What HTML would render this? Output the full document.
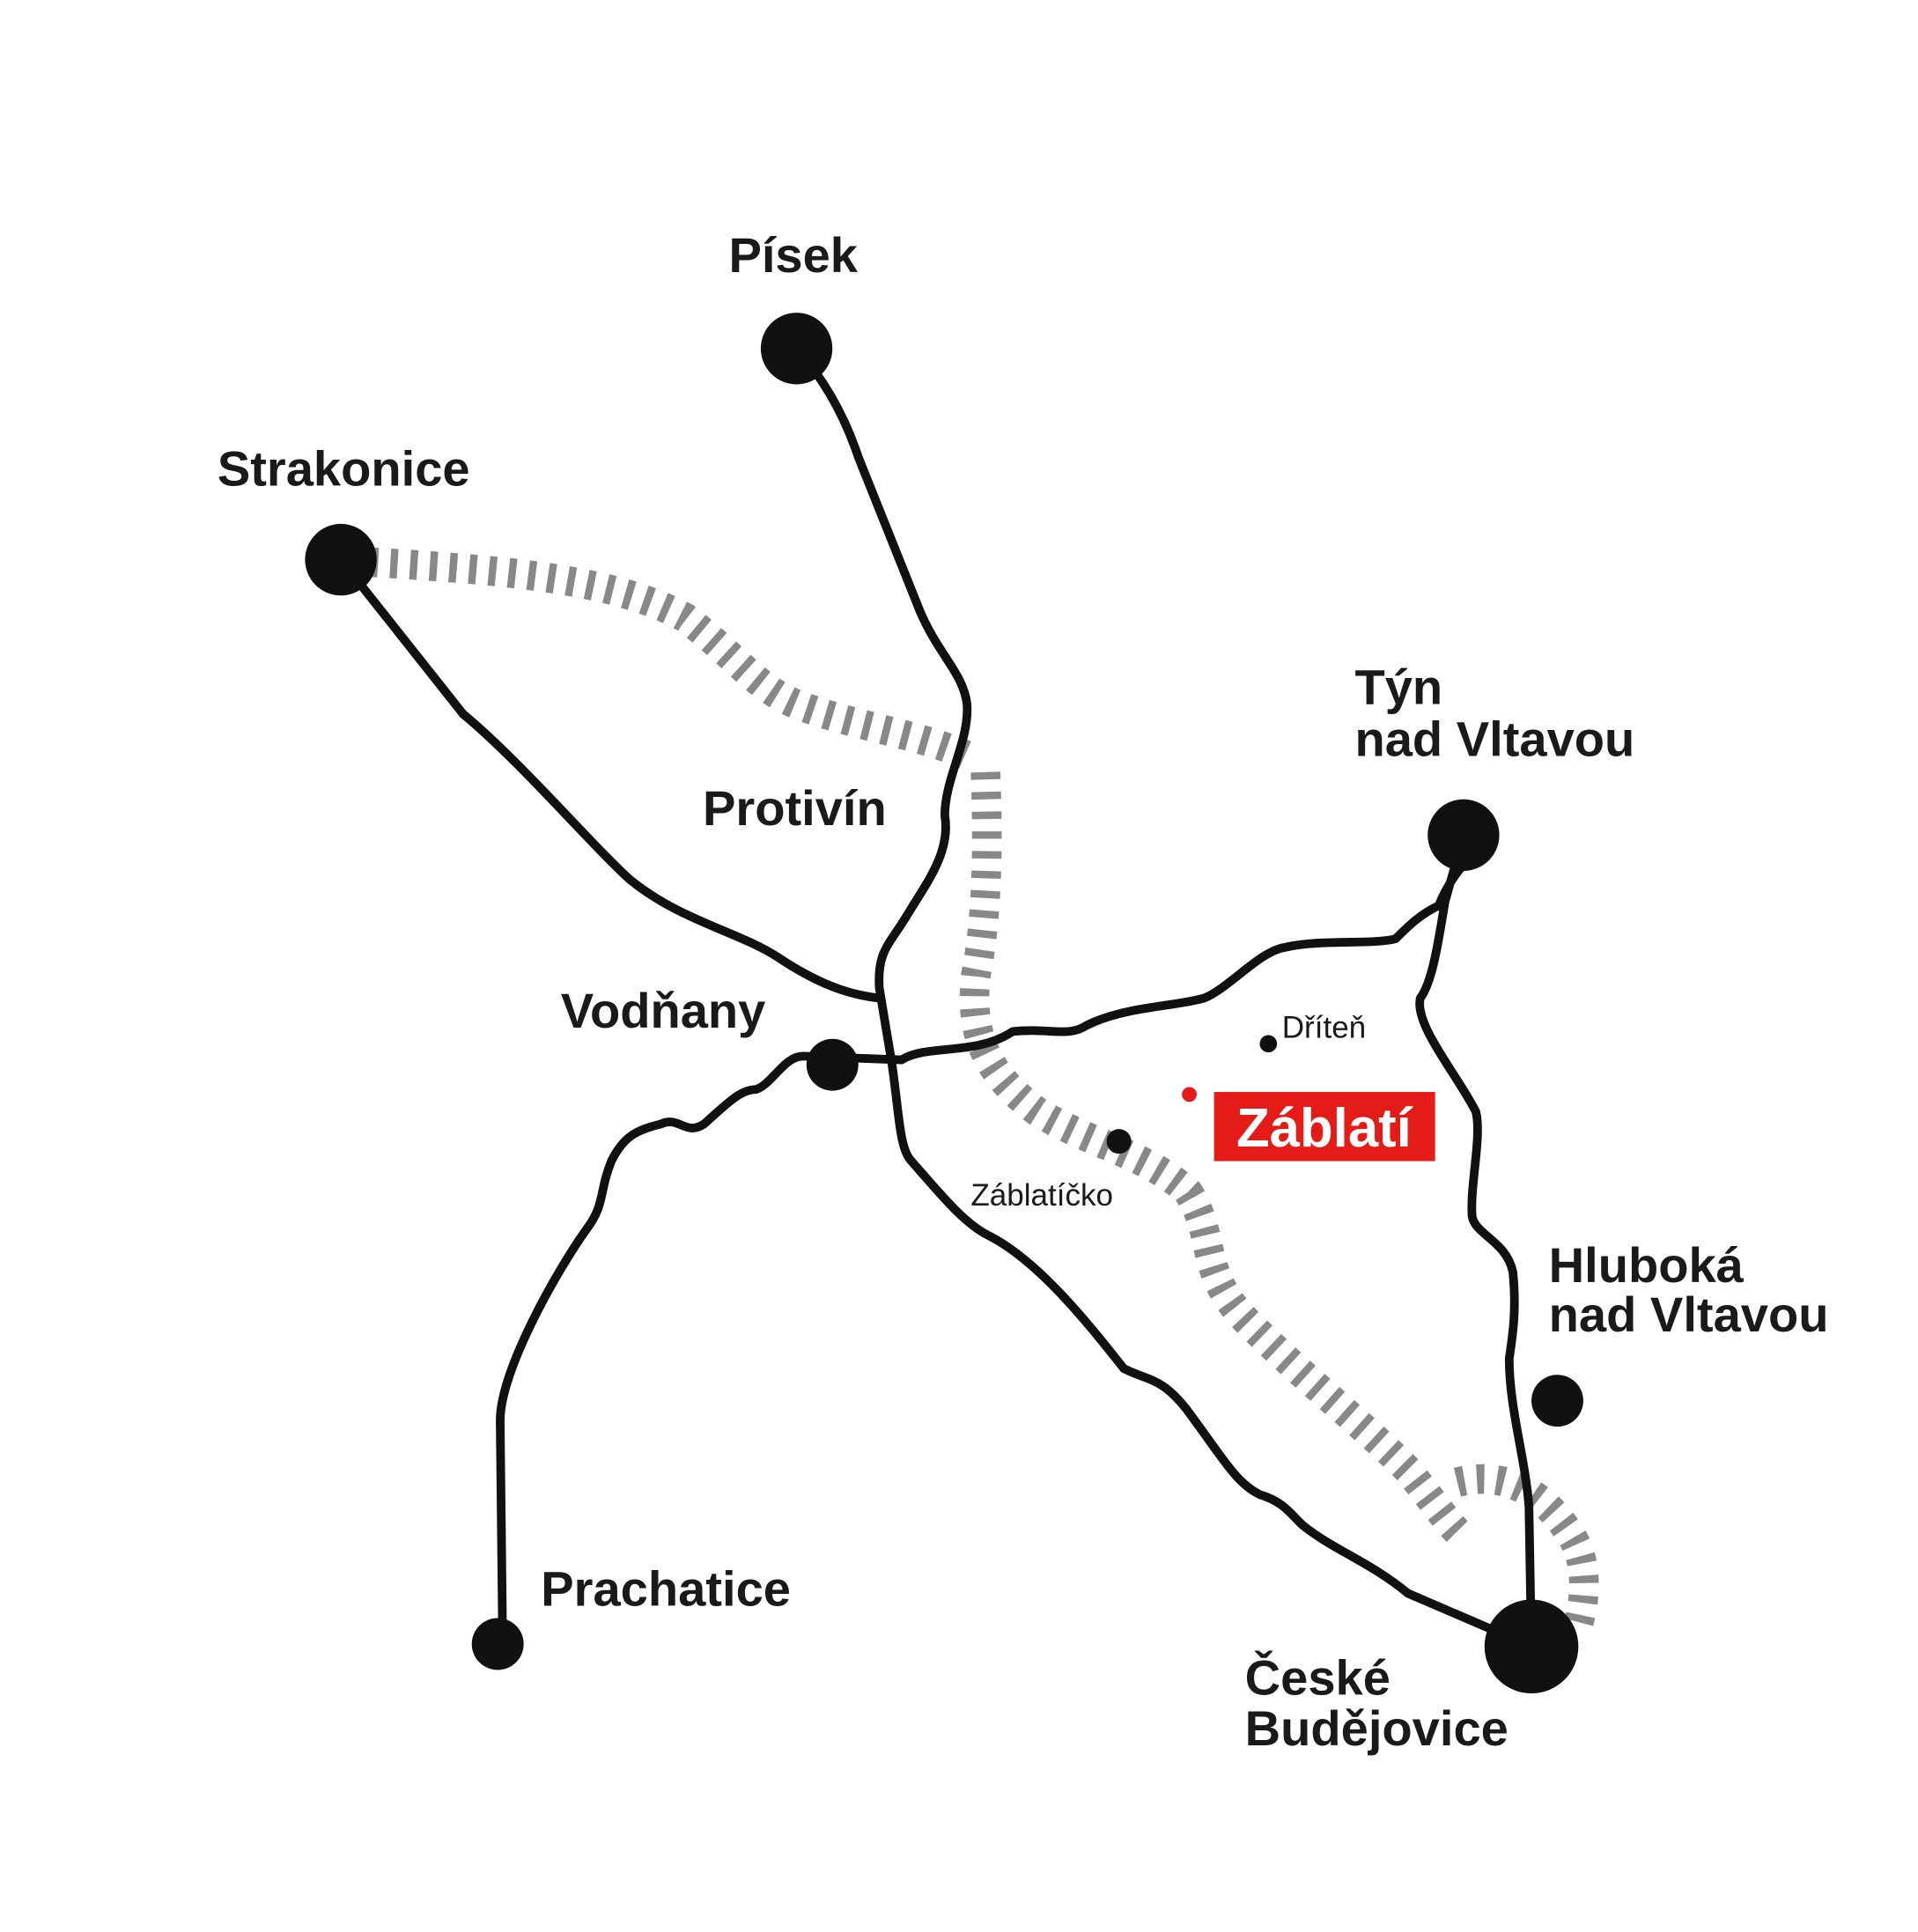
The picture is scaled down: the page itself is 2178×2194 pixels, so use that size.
<!DOCTYPE html>
<html><head><meta charset="utf-8"><style>
html,body{margin:0;padding:0;background:#fff;}
svg{display:block;}
text{font-family:"Liberation Sans",sans-serif;fill:#1a1a1a;}
.b{font-weight:bold;font-size:40px;}
.s{font-size:25px;}
</style></head><body>
<svg width="2178" height="2194" viewBox="0 0 1553 1564" xmlns="http://www.w3.org/2000/svg">
<rect width="1553" height="1564" fill="#fff"/>
<g fill="none" stroke="#888" stroke-width="24" stroke-dasharray="6 10">
<path d="M300,455 C420,462 500,470 555,500 C600,535 615,560 650,572 C700,590 750,595 790,615"/>
<path d="M798,625 C800,680 800,740 790,790 C785,840 800,870 840,900 C880,925 930,935 962,965 C985,1000 970,1030 1010,1070 C1060,1120 1100,1150 1140,1190 C1160,1215 1170,1230 1180,1240"/>
<path d="M1180,1200 C1220,1190 1250,1210 1270,1240 C1285,1260 1285,1290 1278,1315"/>
</g>
<g fill="none" stroke="#111" stroke-width="7" stroke-linecap="round" stroke-linejoin="round">
<path d="M645,282 C670,310 685,340 695,370 L745,495 C760,530 780,545 783,570 C785,600 765,630 765,660 C770,690 750,715 735,740 C720,765 710,770 712,800 L722,860 C728,900 728,930 738,940 C760,965 780,990 800,1000 C840,1020 880,1070 910,1108 C930,1118 940,1115 960,1140 C990,1180 1000,1200 1020,1210 C1040,1216 1045,1226 1055,1235 C1080,1255 1110,1265 1140,1290 L1240,1333"/>
<path d="M276,453 L375,578 C420,615 480,685 510,712 C550,745 600,755 630,775 C660,795 685,805 712,808"/>
<path d="M407,1331 L405,1150 C405,1110 450,1030 475,995 C490,975 485,965 495,940 C505,920 515,915 535,910 C550,903 555,920 570,910 C590,892 600,882 612,882 C625,878 635,855 650,855 L730,858 C750,845 790,855 820,835 C850,832 865,840 880,830 C910,815 950,815 975,808 C995,800 1020,770 1040,767 C1070,760 1110,765 1130,760 C1140,750 1150,740 1165,733 C1170,720 1178,708 1185,700"/>
<path d="M1185,676 L1170,730 C1165,760 1160,795 1150,808 C1145,830 1180,870 1195,900 C1200,920 1190,960 1192,985 C1195,1000 1220,1005 1225,1030 C1228,1060 1225,1080 1222,1100 C1222,1140 1235,1180 1238,1220 L1240,1333"/>
</g>
<g fill="#111">
<circle cx="645" cy="282" r="29"/>
<circle cx="276" cy="453" r="29"/>
<circle cx="1185" cy="676" r="29"/>
<circle cx="674" cy="862" r="21"/>
<circle cx="403" cy="1331" r="21"/>
<circle cx="1261" cy="1134" r="21"/>
<circle cx="1240" cy="1333" r="38"/>
<circle cx="1027" cy="845" r="7"/>
<circle cx="906" cy="924" r="10"/>
</g>
<circle cx="963" cy="886" r="6" fill="#e41b17"/>
<rect x="983" y="884" width="179" height="56" fill="#e41b17"/>
<text x="1072" y="928" text-anchor="middle" style="font-weight:bold;font-size:44px;fill:#fff">Záblatí</text>
<text class="b" x="590" y="220">Písek</text>
<text class="b" x="176" y="393">Strakonice</text>
<text class="b" x="1097" y="570">Týn</text>
<text class="b" x="1097" y="612">nad Vltavou</text>
<text class="b" x="569" y="668">Protivín</text>
<text class="b" x="454" y="832">Vodňany</text>
<text class="b" x="438" y="1300">Prachatice</text>
<text class="b" x="1254" y="1038">Hluboká</text>
<text class="b" x="1254" y="1078">nad Vltavou</text>
<text class="b" x="1008" y="1372">České</text>
<text class="b" x="1008" y="1413">Budějovice</text>
<text class="s" x="1038" y="840">Dříteň</text>
<text class="s" x="786" y="976">Záblatíčko</text>
</svg>
</body></html>
